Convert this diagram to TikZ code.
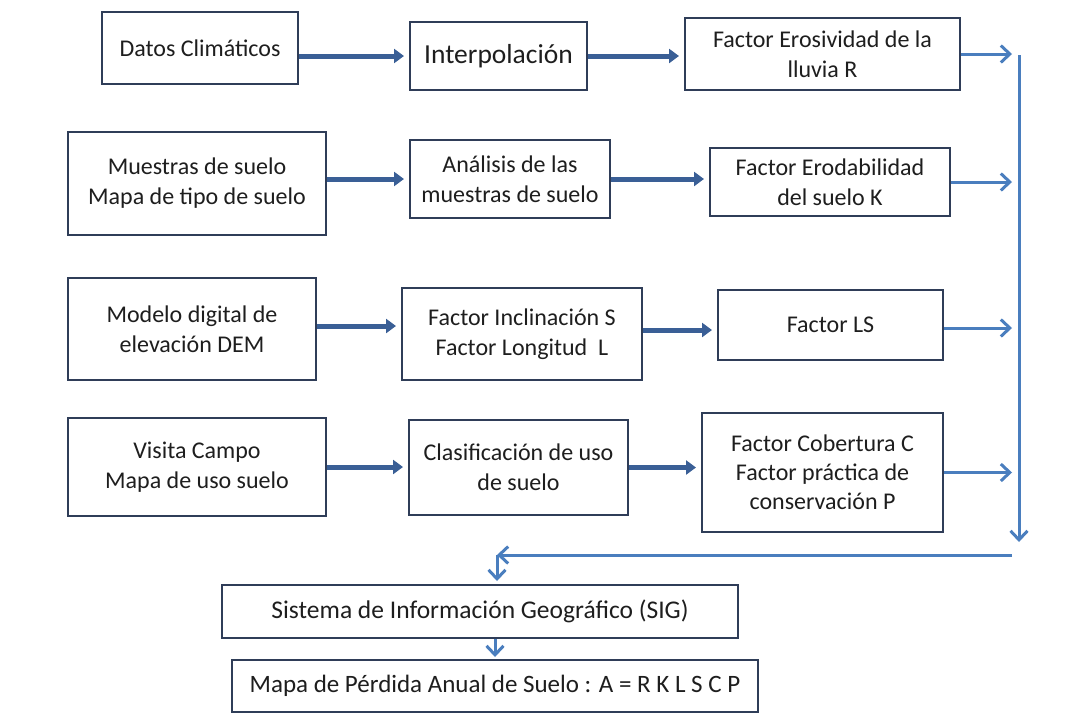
\documentclass[tikz,border=0pt]{standalone}
\usepackage{fontspec}
\setmainfont{Carlito}
\usetikzlibrary{arrows.meta,calc}
\definecolor{boxline}{HTML}{2F3D58}
\definecolor{darkarrow}{HTML}{3A5F96}
\definecolor{lightarrow}{HTML}{4A7EBE}
\definecolor{txt}{HTML}{1E1E1E}
\tikzset{
  box/.style={draw=boxline, line width=2pt, fill=white, align=center, text=txt,
    font=\fontsize{24}{30}\selectfont, inner sep=0pt},
  tarrow/.style={draw=darkarrow, line width=5pt, -{Triangle[length=10pt,width=14pt]}, shorten >=5pt},
  larrow/.style={draw=lightarrow, line width=3pt, -{Straight Barb[length=9pt,width=17pt,line width=3pt]}},
}
\begin{document}
\begin{tikzpicture}[x=1pt,y=-1pt]
\useasboundingbox (0,0) rectangle (1078,715);
% row 1
\node[box, minimum width=196pt, minimum height=72pt] (d1) at (200,48) {Datos Climáticos};
\node[box, minimum width=177pt, minimum height=68pt, font=\fontsize{27.5}{30}\selectfont] (i1) at (498.5,56) {Interpolación};
\node[box, minimum width=275pt, minimum height=72pt] (f1) at (822.5,54) {Factor Erosividad de la\\lluvia R};
% row 2
\node[box, minimum width=258pt, minimum height=103pt] (d2) at (197,183.5) {Muestras de suelo\\Mapa de tipo de suelo};
\node[box, minimum width=200pt, minimum height=78pt] (i2) at (510,179) {Análisis de las\\muestras de suelo};
\node[box, minimum width=240pt, minimum height=68pt] (f2) at (830,182) {Factor Erodabilidad\\del suelo K};
% row 3
\node[box, minimum width=248pt, minimum height=102pt] (d3) at (192,329) {Modelo digital de\\elevación DEM};
\node[box, minimum width=240pt, minimum height=92pt] (i3) at (522,334) {Factor Inclinación S\\Factor Longitud\ \ L};
\node[box, minimum width=225pt, minimum height=70pt] (f3) at (830.5,325) {Factor LS};
% row 4
\node[box, minimum width=258pt, minimum height=98pt] (d4) at (197,467) {Visita Campo\\Mapa de uso suelo};
\node[box, minimum width=219pt, minimum height=95pt] (i4) at (518.5,467.5) {Clasificación de uso\\de suelo};
\node[box, minimum width=241pt, minimum height=119pt, font=\fontsize{24}{29}\selectfont] (f4) at (822.5,472.5) {Factor Cobertura C\\Factor práctica de\\conservación P};
% bottom
\node[box, minimum width=516pt, minimum height=53pt, font=\fontsize{25.5}{30}\selectfont] (sig) at (480,611.5) {Sistema de Información Geográfico (SIG)};
\node[box, minimum width=526pt, minimum height=52pt, font=\fontsize{25}{30}\selectfont] (mapa) at (495,686) {Mapa de Pérdida Anual de Suelo : A = R K L S C P};
% coordinates
\coordinate (rx) at (1012,0);
\coordinate (vtop) at (1019,55);
\coordinate (vbot) at (1019,542);
\coordinate (hr) at (1012,555);
\coordinate (hl) at (497,555);
% thick arrows
\draw[tarrow] (d1.east |- i1.west) -- (i1.west);
\draw[tarrow] (i1.east) -- (i1.east -| f1.west);
\draw[tarrow] (d2.east |- i2.west) -- (i2.west);
\draw[tarrow] (i2.east) -- (i2.east -| f2.west);
\draw[tarrow] ($(d3.east)+(0,-3)$) -- ($(d3.east -| i3.west)+(0,-3)$);
\draw[tarrow] ($(i3.east)+(0,-4)$) -- ($(i3.east -| f3.west)+(0,-4)$);
\draw[tarrow] (d4.east) -- (d4.east -| i4.west);
\draw[tarrow] (i4.east) -- (i4.east -| f4.west);
% light arrows
\draw[larrow] (f1.east) -- (f1.east -| rx);
\draw[larrow] (f2.east) -- (f2.east -| rx);
\draw[larrow] ($(f3.east)+(0,3)$) -- ($(f3.east -| rx)+(0,3)$);
\draw[larrow] (f4.east) -- (f4.east -| rx);
\draw[larrow] (vtop) -- (vbot);
\draw[larrow] (hr) -- (hl);
\draw[larrow] (hl) -- ($(sig.north -| hl)+(0,-3)$);
\draw[larrow] (sig.south -| mapa.north) -- ($(mapa.north)+(0,-2)$);
\end{tikzpicture}
\end{document}
